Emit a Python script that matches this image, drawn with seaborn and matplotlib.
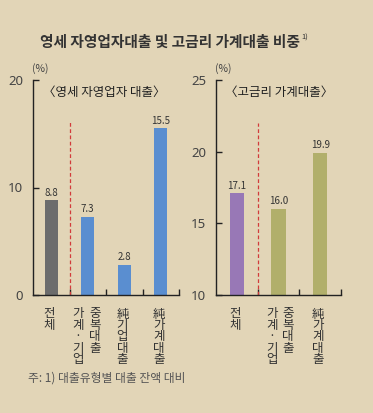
import numpy as np
import pandas as pd
import matplotlib.pyplot as plt
import seaborn as sns

# data
left_cats = ['전체', '가계·기업 중복대출', '純기업대출', '純가계대출']
left_vals = [8.8, 7.3, 2.8, 15.5]
left_cols = [['전체'], ['가계·기업', '중복대출'], ['純기업대출'], ['純가계대출']]
left_ticks = [0, 10, 20]

right_cats = ['전체', '가계·기업 중복대출', '純가계대출']
right_vals = [17.1, 16.0, 19.9]
right_cols = [['전체'], ['가계·기업', '중복대출'], ['純가계대출']]
right_ticks = [10, 15, 20, 25]

left_colors = ['#6c6c6c', '#5a8ed0', '#5a8ed0', '#5a8ed0']
right_colors = ['#9878b6', '#b1af6b', '#b1af6b']

BG = '#e2d5b7'
FONT = ['Noto Sans CJK KR', 'DejaVu Sans']
NUM_FONT = ['Liberation Sans Narrow', 'Noto Sans CJK KR']


def panel(ax, cats, vals, cols, colors, ticks, ylim, divider_top, subtitle, width, offs):
    df = pd.DataFrame({'cat': cats, 'val': vals})
    sns.barplot(data=df, x='cat', y='val', hue='cat', palette=colors,
                width=width, saturation=1, legend=False, ax=ax)
    n = len(cats)
    ax.set_xlim(-0.5, n - 0.5)
    ax.set_ylim(*ylim)
    ax.set_facecolor(BG)
    for s in ['top', 'right']:
        ax.spines[s].set_visible(False)
    for s in ['left', 'bottom']:
        ax.spines[s].set_color('#222222')
        ax.spines[s].set_linewidth(1.0)

    ax.set_yticks(ticks)
    ax.set_yticklabels([str(t) for t in ticks], color='#444444', fontsize=9.5,
                       family=['Noto Sans', 'DejaVu Sans'])
    ax.tick_params(axis='y', direction='in', length=4, width=1, pad=7, color='#222222')

    # boundary ticks (major), label columns (minor)
    ax.set_xticks(np.arange(n) + 0.5)
    ax.set_xticklabels([''] * n)
    ax.tick_params(axis='x', which='major', direction='in', length=4, width=1, color='#222222')
    pos, labs = [], []
    for i, cl in enumerate(cols):
        if len(cl) == 1:
            pos.append(i - 0.05)
            labs.append('\n'.join(cl[0]))
        else:
            pos += [i + offs[0], i + offs[1]]
            labs += ['\n'.join(c) for c in cl]
    ax.set_xticks(pos, minor=True)
    ax.set_xticklabels(labs, minor=True, fontsize=9, color='#333333', family=FONT,
                       va='top')
    for t in ax.get_xticklabels(minor=True):
        t.set_linespacing(0.84)
    ax.tick_params(axis='x', which='minor', length=0, pad=9)
    ax.set_xlabel('')
    ax.set_ylabel('')

    for i, v in enumerate(vals):
        ax.text(i, v + 0.25 * (ylim[1] - ylim[0]) / 20, f'{v:.1f}', ha='center', va='bottom',
                fontsize=7, color='#333333', family=NUM_FONT)

    ax.vlines(0.5, ylim[0], divider_top, colors='#d23b3b', linestyles=(0, (3, 2)), linewidth=0.9)
    ax.text(-0.01, 1.03, '(%)', transform=ax.transAxes, fontsize=7.5, color='#444444',
            family=FONT, ha='left', va='bottom')
    ax.text(0.07, 0.94, subtitle, transform=ax.transAxes, fontsize=9, color='#222222',
            family=FONT, ha='left', va='center')


fig = plt.figure(figsize=(3.73, 4.13), dpi=100, facecolor=BG)
ax1 = fig.add_axes([33 / 373, 1 - 295 / 413, 146 / 373, 215 / 413])
ax2 = fig.add_axes([216 / 373, 1 - 295 / 413, 125 / 373, 215 / 413])

panel(ax1, left_cats, left_vals, left_cols, left_colors, left_ticks, (0, 20), 16.2,
      '〈영세 자영업자 대출〉', 0.36, (-0.27, 0.19))
panel(ax2, right_cats, right_vals, right_cols, right_colors, right_ticks, (10, 25), 22.0,
      '〈고금리 가계대출〉', 0.34, (-0.16, 0.23))

title = fig.text(40 / 373, 1 - 42 / 413, '영세 자영업자대출 및 고금리 가계대출 비중',
                 fontsize=10.6, fontweight='bold', color='#333333', family=FONT, va='center')
fig.canvas.draw()
bb = title.get_window_extent()
fig.text(bb.x1 / 373 + 0.003, bb.y1 / 413, '1)', fontsize=5.5, color='#333333',
         family=FONT, va='top')
fig.text(28 / 373, 1 - 378 / 413, '주: 1) 대출유형별 대출 잔액 대비', fontsize=8.5,
         color='#555555', family=FONT, va='center')

fig.savefig('out.png', dpi=100, facecolor=BG)
